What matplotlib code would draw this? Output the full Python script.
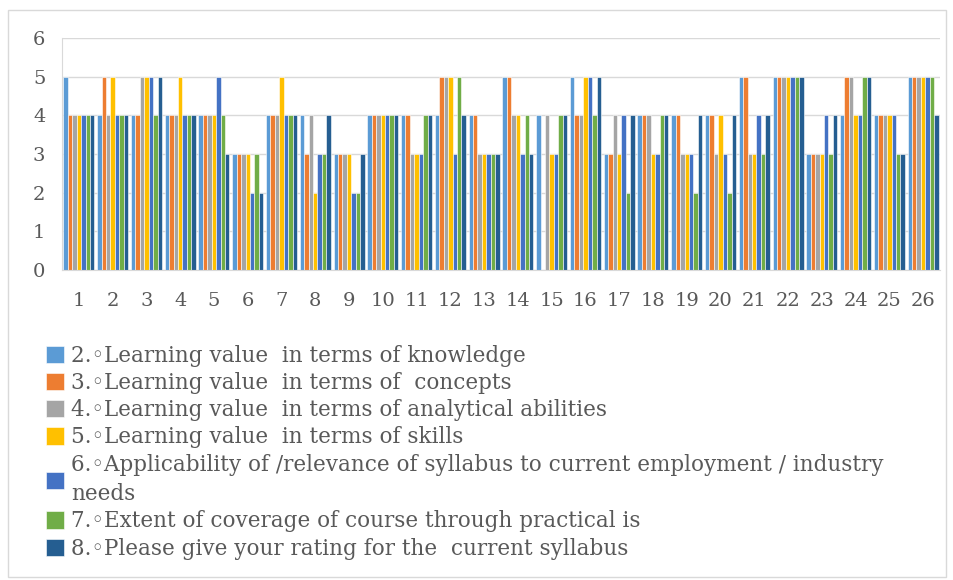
import matplotlib.pyplot as plt
import numpy as np
from matplotlib.patches import Rectangle

groups = [str(i) for i in range(1, 27)]

knowledge = [5, 4, 4, 4, 4, 3, 4, 4, 3, 4, 4, 4, 4, 5, 4, 5, 3, 4, 4, 4, 5, 5, 3, 4, 4, 5]
concepts = [4, 5, 4, 4, 4, 3, 4, 3, 3, 4, 4, 5, 4, 5, 0, 4, 3, 4, 4, 4, 5, 5, 3, 5, 4, 5]
analytical = [4, 4, 5, 4, 4, 3, 4, 4, 3, 4, 3, 5, 3, 4, 4, 4, 4, 4, 3, 3, 3, 5, 3, 5, 4, 5]
skills = [4, 5, 5, 5, 4, 3, 5, 2, 3, 4, 3, 5, 3, 4, 3, 5, 3, 3, 3, 4, 3, 5, 3, 4, 4, 5]
applicability = [4, 4, 5, 4, 5, 2, 4, 3, 2, 4, 3, 3, 3, 3, 3, 5, 4, 3, 3, 3, 4, 5, 4, 4, 4, 5]
coverage = [4, 4, 4, 4, 4, 3, 4, 3, 2, 4, 4, 5, 3, 4, 4, 4, 2, 4, 2, 2, 3, 5, 3, 5, 3, 5]
rating = [4, 4, 5, 4, 3, 2, 4, 4, 3, 4, 4, 4, 3, 3, 4, 5, 4, 4, 4, 4, 4, 5, 4, 5, 3, 4]

labels = [
    "2.\u25e6Learning value  in terms of knowledge",
    "3.\u25e6Learning value  in terms of  concepts",
    "4.\u25e6Learning value  in terms of analytical abilities",
    "5.\u25e6Learning value  in terms of skills",
    "6.\u25e6Applicability of /relevance of syllabus to current employment / industry\nneeds",
    "7.\u25e6Extent of coverage of course through practical is",
    "8.\u25e6Please give your rating for the  current syllabus",
]
colors = ["#5B9BD5", "#ED7D31", "#A5A5A5", "#FFC000", "#4472C4", "#70AD47", "#255E91"]
series = [knowledge, concepts, analytical, skills, applicability, coverage, rating]

plt.rcParams['font.family'] = ['DejaVu Serif', 'DejaVu Sans']

fig = plt.figure(figsize=(9.54, 5.8), dpi=100)
ax = fig.add_axes([62 / 954, 1 - 270 / 580, 878 / 954, 232 / 580])

x = np.arange(1, len(groups) + 1)
w = 0.92 / len(series)
for i, (vals, lab, c) in enumerate(zip(series, labels, colors)):
    ax.bar(x - 0.46 + w * (i + 0.5), vals, width=w, color=c, label=lab,
           edgecolor='white', linewidth=0.4, zorder=2)

ax.set_xlim(0.5, 26.5)
ax.set_ylim(0, 6)
ax.set_yticks(range(0, 7))
ax.set_xticks(x)
ax.set_xticklabels(groups)
ax.yaxis.grid(True, color='#d9d9d9', linewidth=1, zorder=0)
for s in ['top', 'right']:
    ax.spines[s].set_visible(False)
for s in ['left', 'bottom']:
    ax.spines[s].set_color('#d9d9d9')
ax.tick_params(length=0, labelsize=14, labelcolor='#595959')
ax.tick_params(axis='y', pad=12)
ax.tick_params(axis='x', pad=16)

leg = fig.legend(loc='upper left', bbox_to_anchor=(46 / 954, 1 - 345 / 580),
                 frameon=False, fontsize=15.5, labelcolor='#595959',
                 handlelength=0.85, handleheight=0.85, handletextpad=0.3,
                 labelspacing=0.24, borderaxespad=0, borderpad=0)
leg.get_texts()[4].set_linespacing(1.45)

fig.patches.append(Rectangle((8 / 954, 3 / 580), 938 / 954, 567 / 580,
                             transform=fig.transFigure, fill=False,
                             edgecolor='#d9d9d9', linewidth=1))

fig.savefig('out.png', dpi=100)
